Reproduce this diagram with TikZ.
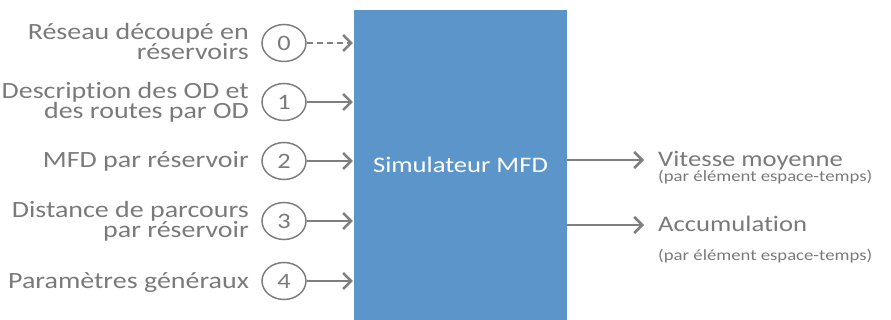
\documentclass[tikz,border=0pt]{standalone}
\usepackage{fontspec}
\setmainfont{Carlito}[FakeStretch=1.2,Ligatures=NoCommon]
\usetikzlibrary{arrows.meta,shapes.geometric}
\definecolor{txtgray}{HTML}{7A7A7A}
\definecolor{lngray}{HTML}{7F7F7F}
\definecolor{simblue}{HTML}{5B95C9}
\begin{document}
\begin{tikzpicture}[x=1pt,y=-1pt,
  lbl/.style={inner sep=0pt,text=txtgray,align=right,anchor=base east,
    font=\fontsize{23.3}{19.5}\selectfont},
  num/.style={ellipse,draw=lngray,line width=1.5pt,minimum width=44pt,minimum height=37pt,
    inner sep=0pt,text=txtgray,font=\fontsize{22}{19}\selectfont},
  inarrow/.style={draw=lngray,line width=2.5pt,-{Straight Barb[length=8pt,width=16pt]}},
  outtxt/.style={inner sep=0pt,text=txtgray,anchor=base west,font=\fontsize{22.2}{19}\selectfont},
  subtxt/.style={inner sep=0pt,text=txtgray,anchor=base west,font=\fontsize{15.6}{15}\selectfont},
  simbox/.style={rectangle,fill=simblue,minimum width=213pt,minimum height=310pt,inner sep=0pt,
    text=white,font=\fontsize{22.2}{19}\selectfont}
]
\useasboundingbox (0,0) rectangle (891,320);
\node[simbox] (sim) at (460.5,165) {\raisebox{-4pt}{Simulateur MFD}};
% inputs
\node[num] (c0) at (284,43) {0};
\node[num] (c1) at (284,102) {1};
\node[num] (c2) at (284,161) {2};
\node[num] (c3) at (284,221) {3};
\node[num] (c4) at (284,281) {4};
\node[lbl] (l0) at (249,60) {Réseau découpé en\\réservoirs};
\node[lbl] (l1) at (249,119) {Description des OD et\\des routes par OD};
\node[lbl] (l2) at (249,168) {MFD par réservoir};
\node[lbl] (l3) at (249,238) {Distance de parcours\\par réservoir};
\node[lbl] (l4) at (249,288) {Paramètres généraux};
\draw[inarrow,dash pattern=on 6pt off 4pt] (c0.east) -- ([xshift=-1pt]sim.west |- c0);
\draw[inarrow] (c1.east) -- ([xshift=-1pt]sim.west |- c1);
\draw[inarrow] (c2.east) -- ([xshift=-1pt]sim.west |- c2);
\draw[inarrow] (c3.east) -- ([xshift=-1pt]sim.west |- c3);
\draw[inarrow] (c4.east) -- ([xshift=-1pt]sim.west |- c4);
% outputs
\node[outtxt] (o1) at (658,167) {Vitesse moyenne};
\node[subtxt] (s1) at (658,182) {(par élément espace-temps)};
\node[outtxt] (o2) at (658,232) {Accumulation};
\node[subtxt] (s2) at (658,261) {(par élément espace-temps)};
\coordinate (t1) at (644,160);
\coordinate (t2) at (644,225);
\draw[inarrow] (sim.east |- t1) -- (t1);
\draw[inarrow] (sim.east |- t2) -- (t2);
\end{tikzpicture}
\end{document}
